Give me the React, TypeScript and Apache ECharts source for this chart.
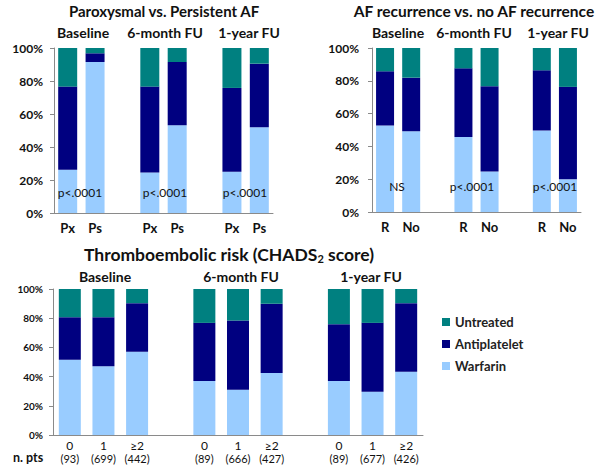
import React, { useEffect, useRef } from "react";
import * as echarts from "echarts";

const FONT = 'Lato, "DejaVu Sans", sans-serif';

const periods = ["Baseline", "6-month FU", "1-year FU"];
const afTypeLabels = ["Px", "Ps"];
const recLabels = ["R", "No"];
const chadsLabels = ["0", "1", "≥2"];
const chadsN = ["93", "699", "442", "89", "666", "427", "89", "677", "426"];

// Paroxysmal vs persistent (per period: Px, Ps)
const afWarfarin = [26.2, 91.5, 24.6, 53.2, 25.0, 52.0];
const afAntiplatelet = [50.4, 5.3, 52.0, 38.3, 50.8, 38.5];
const afUntreated = [23.4, 3.2, 23.4, 8.5, 24.2, 9.5];
const afPValues = ["p<.0001", "p<.0001", "p<.0001"];

// AF recurrence vs none (per period: R, No)
const recWarfarin = [52.7, 49.3, 45.8, 24.7, 49.7, 19.9];
const recAntiplatelet = [33.1, 32.6, 41.8, 52.0, 36.7, 56.4];
const recUntreated = [14.2, 18.1, 12.4, 23.3, 13.6, 23.7];
const recPValues = ["NS", "p<.0001", "p<.0001"];

// CHADS2 (per period: 0, 1, >=2)
const chWarfarin = [51.5, 47.1, 57.0, 37.0, 31.0, 42.5, 37.0, 29.7, 43.4];
const chAntiplatelet = [29.2, 33.6, 33.3, 39.8, 47.4, 47.4, 38.9, 47.1, 46.9];
const chUntreated = [19.3, 19.3, 9.7, 23.2, 21.6, 10.1, 24.1, 23.2, 9.7];

const seriesNames = ["Warfarin", "Antiplatelet", "Untreated"];
const seriesColors = ["#99CCFF", "#000080", "#008080"];

function withGaps<T>(values: T[], perGroup: number, gap: T): T[] {
  const out: T[] = [];
  values.forEach((v, i) => {
    out.push(v);
    if ((i + 1) % perGroup === 0 && i < values.length - 1) out.push(gap);
  });
  return out;
}

function repeatLabels(labels: string[], groups: number): string[] {
  const out: string[] = [];
  for (let g = 0; g < groups; g++) out.push(...labels);
  return out;
}

const AXIS_COLOR = "#8a8a8a";

export default function App() {
  const ref = useRef<HTMLDivElement>(null);
  useEffect(() => {
    if (!ref.current) return;
    document.body.style.margin = "0";
    const chart = echarts.init(ref.current, null, { renderer: "svg" });

    const cats0 = withGaps(repeatLabels(afTypeLabels, 3), 2, "");
    const cats1 = withGaps(repeatLabels(recLabels, 3), 2, "");
    const chCatsRaw = repeatLabels(chadsLabels, 3).map(
      (l, i) => `{a|${l}}\n{b|(${chadsN[i]})}`
    );
    const cats2 = withGaps(chCatsRaw, 3, "");

    const panels = [
      { data: [afWarfarin, afAntiplatelet, afUntreated], per: 2, barWidth: 19 },
      { data: [recWarfarin, recAntiplatelet, recUntreated], per: 2, barWidth: 18 },
      { data: [chWarfarin, chAntiplatelet, chUntreated], per: 3, barWidth: 22 },
    ];

    const series: any[] = [];
    panels.forEach((p, pi) => {
      p.data.forEach((vals, si) => {
        series.push({
          type: "bar",
          name: seriesNames[si],
          stack: "s" + pi,
          xAxisIndex: pi,
          yAxisIndex: pi,
          barWidth: p.barWidth,
          itemStyle: { color: seriesColors[si] },
          data: withGaps<number | null>(vals, p.per, null),
        });
      });
    });

    const xAxisBase = (gridIndex: number, data: string[]) => ({
      gridIndex,
      type: "category",
      data,
      axisLine: { lineStyle: { color: AXIS_COLOR, width: 1 } },
      axisTick: { length: 4, lineStyle: { color: AXIS_COLOR } },
      axisLabel: {
        interval: 0,
        fontFamily: FONT,
        fontWeight: "bold",
        fontSize: 13,
        color: "#111",
        margin: 8,
      },
    });

    const yAxisBase = (gridIndex: number, fontSize: number, margin: number) => ({
      gridIndex,
      type: "value",
      min: 0,
      max: 100,
      interval: 20,
      axisLine: { show: true, lineStyle: { color: AXIS_COLOR } },
      axisTick: { show: true, length: 4, lineStyle: { color: AXIS_COLOR } },
      splitLine: { show: false },
      axisLabel: {
        formatter: "{value}%",
        fontFamily: FONT,
        fontWeight: "bold",
        fontSize,
        color: "#111",
        margin,
      },
    });

    const x2 = xAxisBase(2, cats2) as any;
    x2.axisLabel = {
      interval: 0,
      margin: 4,
      color: "#111",
      rich: {
        a: { fontFamily: FONT, fontSize: 12, lineHeight: 13, color: "#111" },
        b: { fontFamily: FONT, fontSize: 11, lineHeight: 13, color: "#111" },
      },
    };

    const txt = (
      text: string,
      x: number,
      y: number,
      size: number,
      bold: boolean,
      align = "center"
    ) => ({
      type: "text",
      x,
      y,
      z: 100,
      style: {
        text,
        fill: "#111",
        fontFamily: FONT,
        fontSize: size,
        fontWeight: bold ? "bold" : "normal",
        align,
        verticalAlign: "middle",
      },
    });

    const topGroupX0 = [83, 165, 249];
    const topGroupX1 = [398, 474, 558];
    const botGroupX = [105, 241, 371];
    const pX0 = [80, 165, 245];
    const pX1 = [397, 472, 555];

    const graphic: any[] = [
      txt("Paroxysmal vs. Persistent AF", 164, 11, 15, true),
      txt("AF recurrence vs. no AF recurrence", 474, 11, 15.5, true),
      {
        type: "text",
        x: 229,
        y: 254,
        z: 100,
        style: {
          text: "{t|Thromboembolic risk (CHADS}{s|2}{t| score)}",
          align: "center",
          verticalAlign: "middle",
          fill: "#111",
          rich: {
            t: { fontFamily: FONT, fontSize: 17.5, fontWeight: "bold", fill: "#111" },
            s: {
              fontFamily: FONT,
              fontSize: 11,
              fontWeight: "bold",
              fill: "#111",
              padding: [8, 0, 0, 0],
            },
          },
        },
      },
      txt("n. pts", 13, 457, 12.5, true, "left"),
    ];
    periods.forEach((p, i) => {
      graphic.push(txt(p, topGroupX0[i], 32, 14, true));
      graphic.push(txt(p, topGroupX1[i], 32, 14, true));
      graphic.push(txt(p, botGroupX[i], 276, 14, true));
      graphic.push(txt(afPValues[i], pX0[i], 192, 12, false));
      graphic.push(txt(recPValues[i], pX1[i], 186, 12, false));
    });

    chart.setOption({
      animation: false,
      backgroundColor: "#fff",
      textStyle: { fontFamily: FONT },
      grid: [
        { left: 54, top: 48, width: 219, height: 165 },
        { left: 372, top: 48, width: 209, height: 164 },
        { left: 53, top: 289, width: 370, height: 146 },
      ],
      xAxis: [xAxisBase(0, cats0), xAxisBase(1, cats1), x2],
      yAxis: [yAxisBase(0, 12, 11), yAxisBase(1, 12, 13), yAxisBase(2, 10, 10)],
      legend: {
        data: ["Untreated", "Antiplatelet", "Warfarin"],
        orient: "vertical",
        left: 437,
        top: 310,
        icon: "rect",
        itemWidth: 8,
        itemHeight: 8,
        itemGap: 8,
        selectedMode: false,
        textStyle: {
          fontFamily: FONT,
          fontSize: 13,
          fontWeight: "bold",
          color: "#222",
          lineHeight: 14,
        },
      },
      series,
      graphic,
    });

    return () => chart.dispose();
  }, []);

  return <div ref={ref} style={{ width: 600, height: 467 }} />;
}
